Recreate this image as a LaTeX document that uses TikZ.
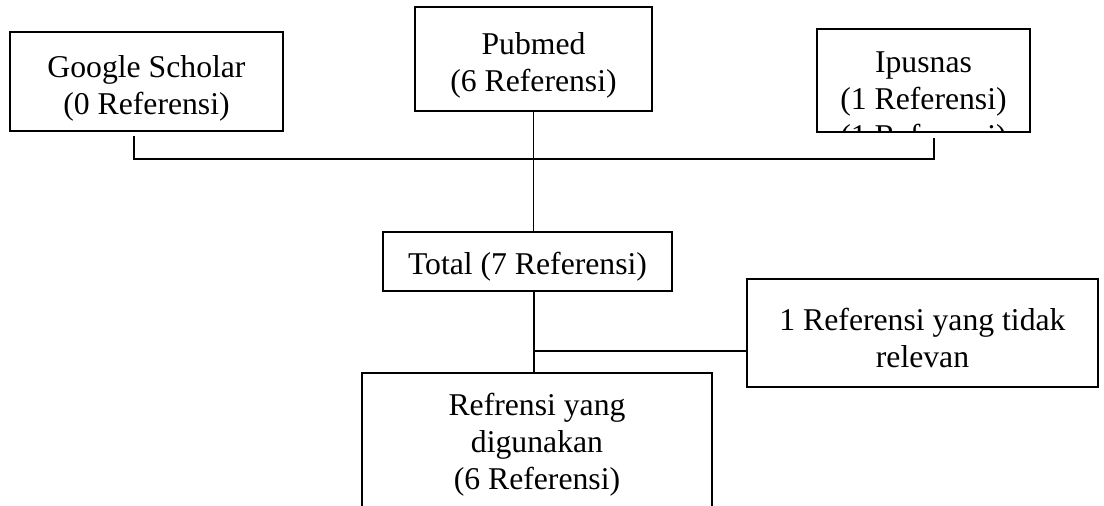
\documentclass[tikz,border=0pt]{standalone}
\usepackage{fontspec}
\setmainfont{Liberation Serif}
\usepackage{tikz}
\usetikzlibrary{positioning}

\begin{document}
\begin{tikzpicture}[
  x=1pt, y=1pt,
  box/.style = {
    draw,
    line width = 1.4pt,
    align = center,
    inner sep = 0pt,
    font = \fontsize{31.7}{37}\selectfont,
  },
  boxtext/.style = {
    align = center,
    inner sep = 0pt,
    font = \fontsize{31.7}{37}\selectfont,
  },
  link/.style = {-, line width = 1.6pt},
]

  \useasboundingbox (0,0) rectangle (1104,506);
  \clip (0,0) rectangle (1104,506);

  \node[box,minimum width=273pt,minimum height=99pt,text height=72pt] (google) at (146.5,424.5) {Google Scholar\\(0 Referensi)};
  \node[box,minimum width=237pt,minimum height=104pt,text height=72pt] (pubmed) at (533.5,447) {Pubmed\\(6 Referensi)};
  \node[box,minimum width=213pt,minimum height=103pt] (ipusnas) at (923.5,425.5) {};

  \begin{scope}
    \clip (ipusnas.south west) rectangle (ipusnas.north east);
    \node[boxtext] (ipusnastext) at (923.5,403) {Ipusnas\\(1 Referensi)\\(1 Referensi)};
  \end{scope}

  \node[box,minimum width=289pt,minimum height=59pt,text height=32pt] (total) at (527.5,244.5) {Total (7 Referensi)};
  \node[box,minimum width=351pt,minimum height=108pt,text height=70pt] (excluded) at (922.5,173) {1 Referensi yang tidak\\relevan};
  \node[box,minimum width=350pt,minimum height=140pt,text height=100pt] (used) at (537,63) {Refrensi yang\\digunakan\\(6 Referensi)};

  \coordinate (busleft) at (134,347);
  \coordinate (busright) at (934,347);
  \coordinate (branch) at (534,155);

  \draw[link,shorten <=4pt,shorten >=5pt] (google.south -| busleft) -- (busleft) -- (busright) -- (ipusnas.south -| busright);
  \draw[link] (pubmed.south) -- (pubmed.south |- total.north);
  \draw[link] (total.south -| branch) -- (used.north -| branch);
  \draw[link] (branch) -- (branch -| excluded.west);

\end{tikzpicture}
\end{document}
